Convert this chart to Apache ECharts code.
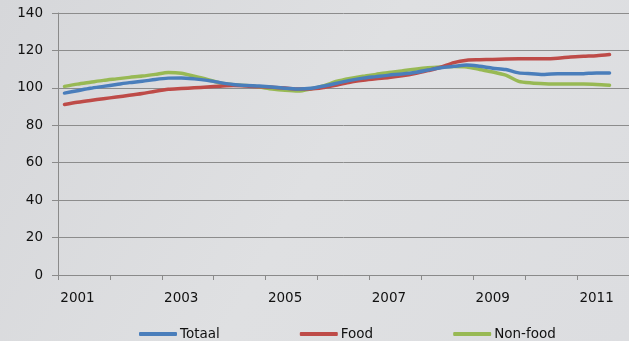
<!DOCTYPE html>
<html>
<head>
<meta charset="utf-8">
<script src="https://cdn.jsdelivr.net/npm/echarts@6/dist/echarts.min.js"></script>
<style>
  html, body { margin: 0; padding: 0; }
  #chart { width: 629px; height: 341px; }
</style>
</head>
<body>
<div id="chart"></div>
<script>
// Quarterly index values, 2001 Q1 – 2011 Q3 (2004 ≈ 100)
const years = ['2001','2002','2003','2004','2005','2006','2007','2008','2009','2010','2011'];
const quarters = [];
years.forEach(y => { for (let q = 1; q <= 4; q++) quarters.push(y + ' K' + q); });

const totaal = [
  97.2, 98.5, 99.8, 100.8, 101.8, 102.8, 103.5, 104.5,
  105.2, 105.3, 104.8, 104.0, 102.8, 101.8, 101.3, 101.0,
  100.5, 99.8, 99.4, 99.8, 101.0, 102.5, 104.0, 105.2,
  106.0, 106.8, 107.4, 108.2, 109.5, 110.8, 111.5, 112.2,
  111.5, 110.5, 109.8, 108.0, 107.6, 107.2, 107.5, 107.5,
  107.6, 108.0, 108.0
];
const food = [
  91.1, 92.3, 93.3, 94.2, 95.1, 96.0, 97.0, 98.2,
  99.2, 99.6, 100.0, 100.5, 100.9, 101.2, 101.0, 100.6,
  100.3, 99.9, 99.4, 99.4, 100.2, 101.5, 103.0, 104.0,
  104.8, 105.5, 106.4, 107.6, 109.2, 111.0, 113.5, 114.8,
  115.0, 115.2, 115.4, 115.5, 115.5, 115.5, 115.8, 116.5,
  116.9, 117.2, 117.8
];
const nonFood = [
  100.8, 102.0, 103.0, 104.0, 104.8, 105.6, 106.3, 107.2,
  108.2, 107.8, 106.2, 104.5, 102.6, 101.7, 101.2, 100.4,
  99.4, 98.7, 98.3, 99.5, 101.2, 103.5, 105.0, 106.2,
  107.2, 108.2, 109.0, 110.0, 110.8, 111.2, 111.4, 111.2,
  109.8, 108.5, 106.8, 103.5, 102.6, 102.2, 102.0, 102.0,
  102.0, 101.8, 101.4
];

const seriesNames = ['Totaal', 'Food', 'Non-food'];
const seriesColors = ['#4a7ebb', '#be4b48', '#98b954'];
const seriesData = [totaal, food, nonFood];

const textColor = '#111111';
const font = 'DejaVu Sans';

const chart = echarts.init(document.getElementById('chart'), null, { renderer: 'canvas' });
chart.setOption({
  backgroundColor: {
    type: 'linear', x: 0, y: 0, x2: 1, y2: 1,
    colorStops: [
      { offset: 0, color: '#d6d7da' },
      { offset: 0.5, color: '#dfe0e2' },
      { offset: 1, color: '#dcdde0' }
    ]
  },
  animation: false,
  grid: { left: 58, top: 13, right: -7, bottom: 66, containLabel: false },
  legend: {
    data: seriesNames,
    left: 134,
    top: 322,
    icon: 'roundRect',
    itemWidth: 38,
    itemHeight: 4,
    itemGap: 80,
    textStyle: { color: textColor, fontFamily: font, fontSize: 13.5, padding: [0, 0, 0, -2] }
  },
  xAxis: {
    type: 'category',
    data: quarters,
    boundaryGap: true,
    axisLine: { lineStyle: { color: '#8a8a8a', width: 1 } },
    axisTick: { show: true, interval: 3, length: 5, lineStyle: { color: '#8a8a8a' } },
    axisLabel: {
      interval: (i) => i % 8 === 1,
      formatter: (v) => v.slice(0, 4),
      color: textColor, fontFamily: font, fontSize: 13.5, margin: 16
    },
    splitLine: { show: false }
  },
  yAxis: {
    type: 'value',
    min: 0, max: 140, interval: 20,
    axisLine: { show: true, lineStyle: { color: '#8a8a8a', width: 1 } },
    axisTick: { show: true, length: 6, lineStyle: { color: '#8a8a8a' } },
    axisLabel: { color: textColor, fontFamily: font, fontSize: 13.5, margin: 15 },
    splitLine: { show: true, lineStyle: { color: '#8c8c8c', width: 1 } }
  },
  series: seriesNames.map((name, k) => ({
    name,
    type: 'line',
    data: seriesData[k],
    showSymbol: false,
    smooth: 0.25,
    color: seriesColors[k],
    lineStyle: { width: 3.5, color: seriesColors[k], cap: 'round', join: 'round' },
    z: 3 - k
  }))
});
</script>
</body>
</html>
